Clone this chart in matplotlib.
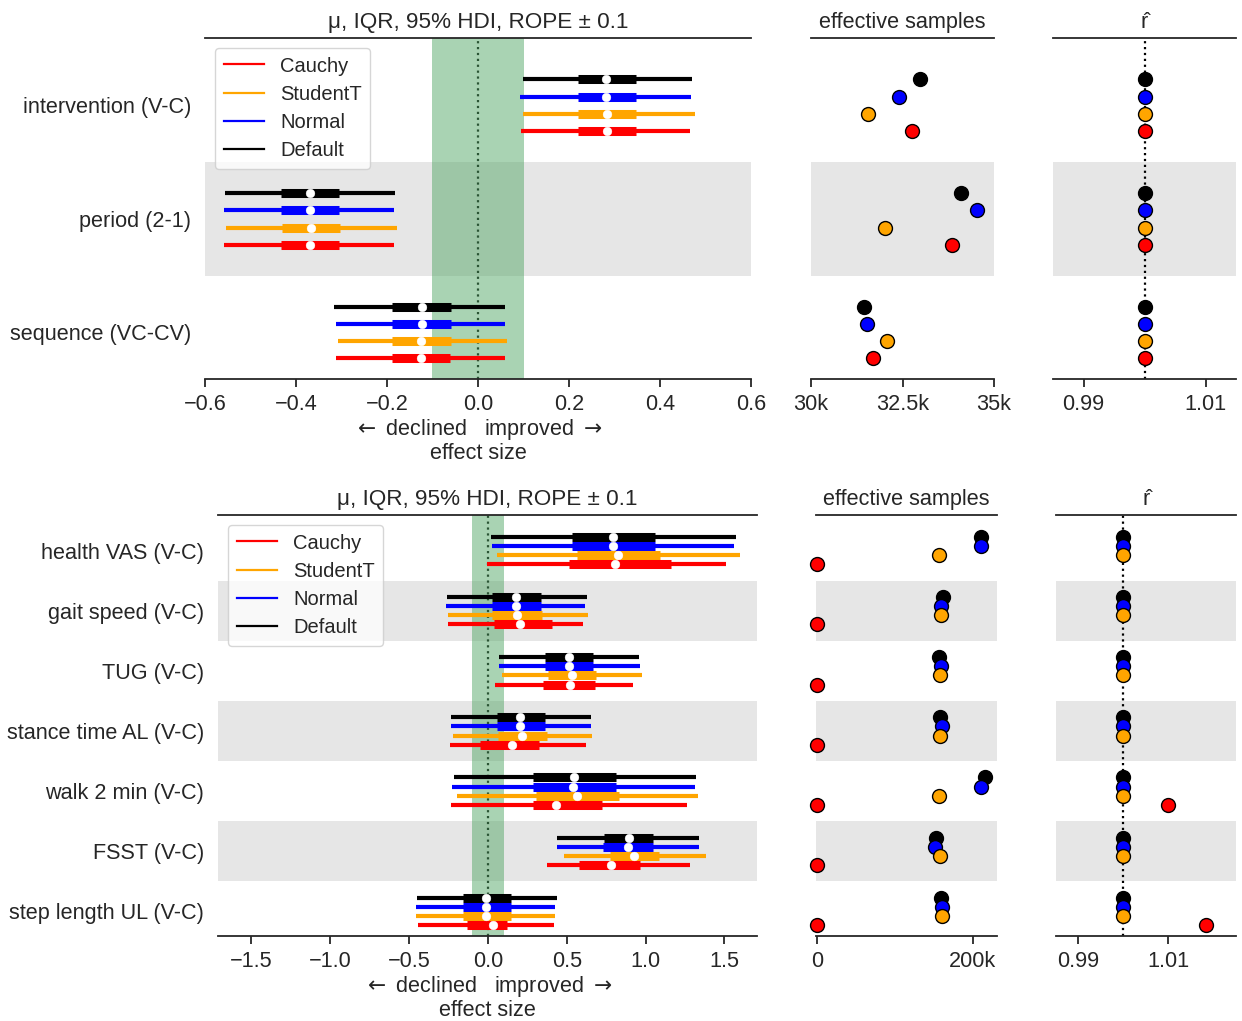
import numpy as np
import matplotlib
matplotlib.use("Agg")
import matplotlib.pyplot as plt
from matplotlib.lines import Line2D
from matplotlib.ticker import FuncFormatter

plt.rcParams['font.family'] = ['Liberation Sans', 'DejaVu Sans']
INK = '#262626'
plt.rcParams.update({
    'text.color': INK, 'axes.labelcolor': INK,
    'xtick.color': INK, 'ytick.color': INK, 'axes.edgecolor': INK,
})

# ---------------------------------------------------------------- data
models = ["Default", "Normal", "StudentT", "Cauchy"]
model_colors = ["black", "blue", "orange", "red"]
legend_order = ["Cauchy", "StudentT", "Normal", "Default"]

# design effects (rows: models, columns: effects)
design_labels = ["intervention (V-C)", "period (2-1)", "sequence (VC-CV)"]
design_median = [[0.282, -0.370, -0.124],
                 [0.282, -0.370, -0.124],
                 [0.283, -0.367, -0.125],
                 [0.283, -0.370, -0.125]]
design_iqr_low = [[0.219, -0.433, -0.188],
                  [0.219, -0.433, -0.188],
                  [0.220, -0.431, -0.188],
                  [0.219, -0.433, -0.188]]
design_iqr_high = [[0.348, -0.306, -0.060],
                   [0.348, -0.306, -0.060],
                   [0.348, -0.304, -0.060],
                   [0.348, -0.306, -0.061]]
design_hdi_low = [[0.098, -0.556, -0.317],
                  [0.093, -0.558, -0.313],
                  [0.098, -0.553, -0.308],
                  [0.095, -0.558, -0.313]]
design_hdi_high = [[0.470, -0.183, 0.060],
                   [0.468, -0.185, 0.060],
                   [0.478, -0.178, 0.063],
                   [0.465, -0.185, 0.060]]
design_ess = [[32970, 34110, 31450],
              [32400, 34540, 31530],
              [31570, 32020, 32080],
              [32750, 33860, 31690]]
design_rhat = [[1.000, 1.000, 1.000],
               [1.000, 1.000, 1.000],
               [1.000, 1.000, 1.000],
               [1.000, 1.000, 1.000]]

# outcome effects (rows: models, columns: outcomes)
outcome_labels = ["health VAS (V-C)", "gait speed (V-C)", "TUG (V-C)",
                  "stance time AL (V-C)", "walk 2 min (V-C)", "FSST (V-C)",
                  "step length UL (V-C)"]
outcome_median = [[0.796, 0.178, 0.514, 0.207, 0.545, 0.892, -0.011],
                  [0.793, 0.178, 0.512, 0.207, 0.543, 0.890, -0.009],
                  [0.827, 0.187, 0.534, 0.219, 0.568, 0.929, -0.011],
                  [0.809, 0.207, 0.518, 0.153, 0.433, 0.782, 0.034]]
outcome_iqr_low = [[0.532, 0.027, 0.361, 0.059, 0.284, 0.737, -0.160],
                   [0.532, 0.027, 0.361, 0.059, 0.284, 0.732, -0.160],
                   [0.563, 0.027, 0.379, 0.063, 0.307, 0.775, -0.160],
                   [0.512, 0.038, 0.347, -0.047, 0.284, 0.579, -0.133]]
outcome_iqr_high = [[1.062, 0.336, 0.667, 0.361, 0.811, 1.046, 0.144],
                    [1.062, 0.336, 0.667, 0.361, 0.811, 1.046, 0.144],
                    [1.091, 0.343, 0.687, 0.372, 0.832, 1.084, 0.144],
                    [1.161, 0.408, 0.681, 0.322, 0.726, 0.965, 0.122]]
outcome_hdi_low = [[0.020, -0.257, 0.068, -0.232, -0.216, 0.437, -0.446],
                   [0.029, -0.268, 0.074, -0.232, -0.225, 0.437, -0.453],
                   [0.056, -0.250, 0.092, -0.223, -0.198, 0.480, -0.458],
                   [-0.005, -0.252, 0.045, -0.239, -0.232, 0.374, -0.442]]
outcome_hdi_high = [[1.571, 0.631, 0.958, 0.651, 1.321, 1.339, 0.437],
                    [1.562, 0.618, 0.962, 0.656, 1.314, 1.339, 0.428],
                    [1.596, 0.636, 0.980, 0.658, 1.334, 1.382, 0.424],
                    [1.508, 0.606, 0.922, 0.624, 1.260, 1.282, 0.417]]
outcome_ess = [[210700, 162400, 156400, 157300, 216200, 153400, 159400],
               [210700, 159000, 159800, 160700, 210700, 152100, 160700],
               [156400, 159800, 158100, 158100, 156800, 157700, 160700],
               [200, 200, 200, 200, 200, 200, 200]]
# Cauchy chains that did not mix have r-hat far outside the shown range
outcome_rhat = [[1.000, 1.000, 1.000, 1.000, 1.000, 1.000, 1.000],
                [1.000, 1.000, 1.000, 1.000, 1.000, 1.000, 1.000],
                [1.000, 1.000, 1.000, 1.000, 1.000, 1.000, 1.000],
                [np.nan, np.nan, np.nan, np.nan, 1.010, np.nan, 1.0184]]

ROPE = 0.1

# ---------------------------------------------------------------- layout
W, H = 1242, 1021
fig = plt.figure(figsize=(W / 100, H / 100), dpi=100)


def add_ax(left, right, top, bottom):
    return fig.add_axes([left / W, 1 - bottom / H, (right - left) / W, (bottom - top) / H])


FS = 15.6
SPACING = 0.152
ROPE_COLOR = '#55a868'


def style_ax(ax):
    for side in ('left', 'right'):
        ax.spines[side].set_visible(False)
    for side in ('top', 'bottom'):
        ax.spines[side].set_linewidth(1.3)
        ax.spines[side].set_color(INK)
    ax.tick_params(axis='x', length=6, width=1.3, labelsize=FS, pad=5)
    ax.tick_params(axis='y', length=0, labelsize=FS, pad=10)


def row_setup(ax, n):
    ax.set_ylim(-0.41, n - 1 + 0.593)
    for i in range(n):
        if i % 2 == 1:
            c = n - 1 - i
            ax.axhspan(c - 0.5, c + 0.5, color='#e6e6e6', lw=0, zorder=0)


def model_y(n, i, j):
    return (n - 1 - i) + (1.5 - j) * SPACING


def draw_panel(top, bottom, forest_x, ess_x, rhat_x, labels,
               med, ql, qh, hl, hh, ess, rhat,
               flim, fticks, elim, eticks, rlim):
    n = len(labels)
    axf = add_ax(forest_x[0], forest_x[1], top, bottom)
    axe = add_ax(ess_x[0], ess_x[1], top, bottom)
    axr = add_ax(rhat_x[0], rhat_x[1], top, bottom)
    for ax in (axf, axe, axr):
        style_ax(ax)
        row_setup(ax, n)

    # forest: HDI, IQR and median per model
    axf.axvline(0, color='black', ls=':', lw=1.6, zorder=0.5)
    axf.axvspan(-ROPE, ROPE, color=ROPE_COLOR, alpha=0.5, lw=0, zorder=1)
    for j, (m, col) in enumerate(zip(models, model_colors)):
        for i in range(n):
            y = model_y(n, i, j)
            axf.plot([hl[j][i], hh[j][i]], [y, y], color=col, lw=3,
                     solid_capstyle='butt', zorder=3)
            axf.plot([ql[j][i], qh[j][i]], [y, y], color=col, lw=6.5,
                     solid_capstyle='butt', zorder=4)
            axf.plot([med[j][i]], [y], 'o', color='white', ms=6.3,
                     mec='white', mew=0.3, zorder=5)
    axf.set_xlim(*flim)
    axf.set_xticks(fticks)
    axf.set_yticks([n - 1 - i for i in range(n)])
    axf.set_yticklabels(labels)
    axf.set_title("μ, IQR, 95% HDI, ROPE ± 0.1", fontsize=16.2, pad=7)
    axf.set_xlabel(r"$\leftarrow$ declined   improved $\rightarrow$" + "\neffect size",
                   fontsize=FS, linespacing=1.08, labelpad=1)

    handles = [Line2D([], [], color=model_colors[models.index(m)], lw=1.6)
               for m in legend_order]
    leg = axf.legend(handles, legend_order, loc='upper left', fontsize=14.5,
                     framealpha=0.8, edgecolor='#cccccc', handlelength=2.0,
                     labelspacing=0.46, handletextpad=0.8, borderpad=0.42)
    leg.set_zorder(10)

    # effective sample size
    for j, col in enumerate(model_colors):
        for i in range(n):
            axe.plot([ess[j][i]], [model_y(n, i, j)], 'o', ms=10, mfc=col,
                     mec='black', mew=1.0, zorder=3, clip_on=False)
    axe.set_xlim(*elim)
    axe.set_xticks(eticks)
    axe.xaxis.set_major_formatter(
        FuncFormatter(lambda v, p: "0" if v == 0 else f"{v / 1000:g}k"))
    axe.set_yticks([])
    axe.set_title("effective samples", fontsize=FS, pad=7)

    # r-hat
    axr.axvline(1.0, color='black', ls=':', lw=1.6, zorder=1)
    for j, col in enumerate(model_colors):
        for i in range(n):
            axr.plot([rhat[j][i]], [model_y(n, i, j)], 'o', ms=10, mfc=col,
                     mec='black', mew=1.0, zorder=3, clip_on=False)
    axr.set_xlim(*rlim)
    axr.set_xticks([0.99, 1.01])
    axr.set_xticklabels(["0.99", "1.01"])
    axr.set_yticks([])
    axr.set_title("r\u0302", fontsize=FS, pad=7)


draw_panel(38, 379, (205, 751), (811, 994), (1053, 1236), design_labels,
           design_median, design_iqr_low, design_iqr_high,
           design_hdi_low, design_hdi_high, design_ess, design_rhat,
           (-0.6, 0.6), np.arange(-0.6, 0.61, 0.2),
           (30000, 35000), [30000, 32500, 35000], (0.985, 1.015))

draw_panel(515, 936, (218, 757), (816, 997), (1056, 1236), outcome_labels,
           outcome_median, outcome_iqr_low, outcome_iqr_high,
           outcome_hdi_low, outcome_hdi_high, outcome_ess, outcome_rhat,
           (-1.71, 1.706), np.arange(-1.5, 1.51, 0.5),
           (-1000, 231000), [0, 200000], (0.985, 1.0252))

fig.savefig("out.png", dpi=100, facecolor='white')
